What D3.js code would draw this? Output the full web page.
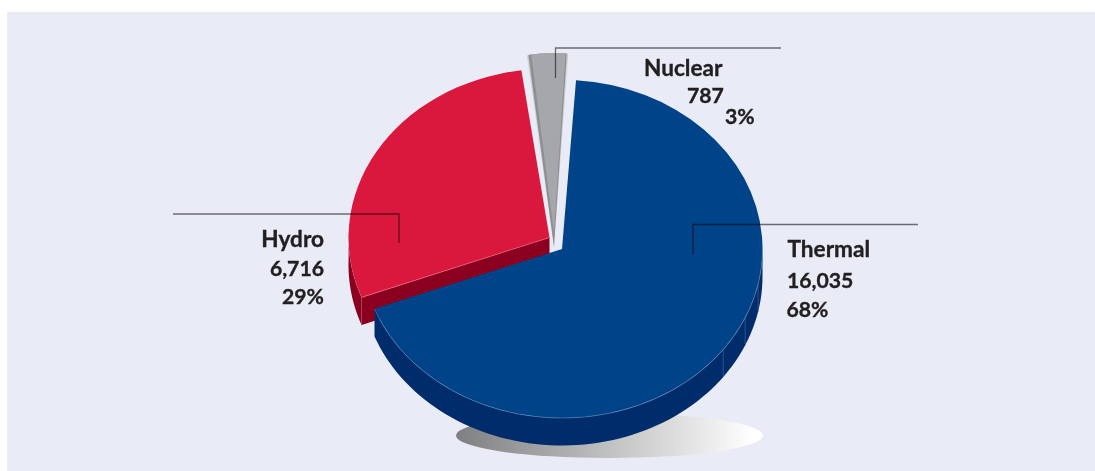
<!DOCTYPE html>
<html>
<head>
<meta charset="utf-8">
<script src="https://d3js.org/d3.v7.min.js"></script>
<style>html,body{margin:0;padding:0;background:#fff}svg{display:block}</style>
</head>
<body>
<svg id="c" width="1095" height="471"></svg>
<script>
const categories = ["Thermal", "Hydro", "Nuclear"];
const values = [16035, 6716, 787];
const valueLabels = ["16,035", "6,716", "787"];
const percentLabels = ["68%", "29%", "3%"];
const topColors = ["#004388", "#da173d", "#a6a7aa"];
const sideColors = ["#002c6b", "#8a001e", "#8e8f92"];

const rad = d3.scaleLinear().domain([0, 360]).range([0, 2 * Math.PI]);
const svg = d3.select("#c");
svg.append("rect").attr("x", 7).attr("y", 12).attr("width", 1088).attr("height", 459).attr("fill", "#e9ecf6");

const grad = svg.append("defs").append("linearGradient").attr("id", "sh");
grad.append("stop").attr("offset", "0").attr("stop-color", "#7e7f81");
grad.append("stop").attr("offset", "0.97").attr("stop-color", "#ffffff");
svg.append("ellipse").attr("cx", 609.5).attr("cy", 435.5).attr("rx", 153.5).attr("ry", 22.5).attr("fill", "url(#sh)");

const start = rad(4);
const pie = d3.pie().sort(null).startAngle(start).endAngle(start + 2 * Math.PI);
const arcs = pie(values);
const unit = d3.arc().innerRadius(0).outerRadius(1);

const depth = 27.5;
const frames = [
  {cx: 562, cy: 249, rx: 200.5, ry: 169},
  {cx: 549.5, cy: 237.5, rx: 201, ry: 169},
  {cx: 554, cy: 247, rx: 183, ry: 194}
];
const pt = (f, a, dy = 0) => [f.cx + f.rx * Math.sin(a), f.cy - f.ry * Math.cos(a) + dy];
const curve = (f, a0, a1, dy = 0) => {
  const n = 80, s = d3.scaleLinear().domain([0, n]).range([a0, a1]);
  return d3.range(n + 1).map(i => pt(f, s(i), dy));
};
const line = d3.line();
const face = (a, f, fill, k = 1) => svg.append("path")
  .attr("transform", `translate(${f.cx},${f.cy}) scale(${f.rx * k},${f.ry * k})`)
  .attr("d", unit(a)).attr("fill", fill);

// Hydro: outer wall, cut wall, top
const hF = frames[1], hA = arcs[1];
svg.append("path").attr("fill", sideColors[1]).attr("d", line([
  ...curve(hF, hA.startAngle, rad(272)),
  ...curve(hF, rad(272), hA.startAngle, depth)
]) + "Z");
const hCorner = pt(hF, hA.startAngle);
svg.append("path").attr("fill", sideColors[1]).attr("d", line([
  hCorner, [hF.cx, hF.cy], [hF.cx, hF.cy + depth], [hCorner[0], hCorner[1] + depth]
]) + "Z");
face(hA, hF, topColors[1]);
svg.append("path").attr("fill", "none").attr("stroke", "#ec5f7c").attr("stroke-width", 0.7)
  .attr("d", line([hCorner, [hF.cx, hF.cy]]));
svg.append("path").attr("fill", "none").attr("stroke", "#b04a60").attr("stroke-width", 0.6)
  .attr("d", line([hCorner, [hCorner[0], hCorner[1] + depth]]));

// Nuclear: nested wedges
const nF = frames[2], nA = arcs[2];
face({...nA, startAngle: nA.startAngle - rad(0.5), endAngle: nA.endAngle + rad(0.5)}, nF, "#cfd0d4");
face(nA, nF, sideColors[2]);
const nFi = {cx: nF.cx, cy: nF.cy - 14, rx: nF.rx * 0.93, ry: nF.ry * 0.925};
face({...nA, startAngle: nA.startAngle + rad(0.4), endAngle: nA.endAngle - rad(0.1)}, nFi, topColors[2]);
const nTop = curve(nF, nA.startAngle, nA.endAngle);
svg.append("path").attr("fill", topColors[2]).attr("d", line([...nTop, pt(nFi, nA.endAngle - rad(0.1)), pt(nFi, nA.startAngle + rad(0.4))]) + "Z");

// Thermal: wall then top
const tF = frames[0], tA = arcs[0];
svg.append("path").attr("fill", sideColors[0]).attr("d", line([
  ...curve(tF, rad(90), tA.endAngle),
  ...curve(tF, tA.endAngle, rad(90), depth)
]) + "Z");
const seams = [102, 114, 126.5];
svg.append("g").selectAll("line").data(seams).join("line")
  .attr("x1", d => pt(tF, rad(d))[0]).attr("x2", d => pt(tF, rad(d))[0])
  .attr("y1", d => pt(tF, rad(d))[1]).attr("y2", d => pt(tF, rad(d), depth)[1])
  .attr("stroke", "#3f6399").attr("stroke-width", 0.7);
face(tA, tF, topColors[0]);
svg.append("path").attr("fill", "none").attr("stroke", "#4f78ad").attr("stroke-width", 0.7)
  .attr("d", line(curve(tF, rad(92), tA.endAngle)));

// Leader lines
const leaders = [
  {x0: 693, x1: 918, y0: 224.5, y1: 254},
  {x0: 399, x1: 173, y0: 214, y1: 243},
  {x0: 555.5, x1: 781, y0: 48, y1: 78}
];
svg.append("g").style("mix-blend-mode", "multiply").selectAll("path").data(leaders).join("path")
  .attr("fill", "none").attr("stroke", "#757479").attr("stroke-width", 1.3)
  .attr("d", d => line([[d.x1, d.y0], [d.x0, d.y0], [d.x0, d.y1]]));

// Labels
const labelPos = [
  {anchor: "start", rows: [[787.5, 257], [787, 288], [786.5, 317]]},
  {anchor: "end", rows: [[324, 247], [324, 276], [324, 304]]},
  {anchor: "start", rows: [[644, 76], [687, 103], [725, 124]]}
];
const rowSize = [22.6, 21.2, 21.2];
categories.forEach((c, i) => {
  [c, valueLabels[i], percentLabels[i]].forEach((t, j) => {
    svg.append("text").text(t)
      .attr("x", labelPos[i].rows[j][0]).attr("y", labelPos[i].rows[j][1])
      .attr("text-anchor", labelPos[i].anchor)
      .attr("font-family", "Lato, 'Open Sans', sans-serif").attr("font-weight", 700)
      .attr("font-size", rowSize[j]).attr("fill", "#231f20")
      .attr("stroke", "#231f20").attr("stroke-width", 0.35);
  });
});
</script>
</body>
</html>
